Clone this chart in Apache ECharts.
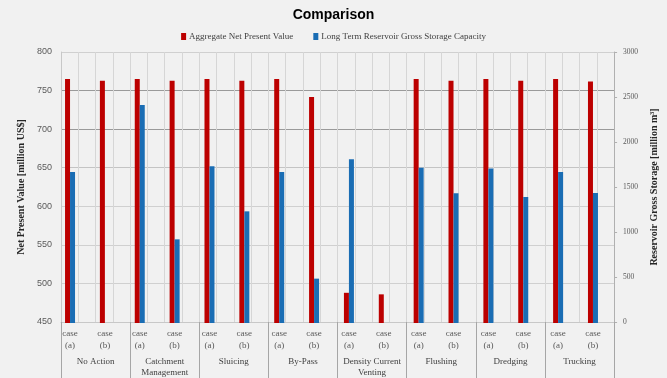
<!DOCTYPE html>
<html>
<head>
<meta charset="utf-8">
<script src="https://cdn.jsdelivr.net/npm/echarts@6/dist/echarts.min.js"></script>
<style>
html,body{margin:0;padding:0;background:#f1f1f1;}
#chart{width:667px;height:378px;}
</style>
</head>
<body>
<div id="chart"></div>
<script>
// ---- data ----
const caseLabels = ['case\n(a)','case\n(b)','case\n(a)','case\n(b)','case\n(a)','case\n(b)','case\n(a)','case\n(b)',
                    'case\n(a)','case\n(b)','case\n(a)','case\n(b)','case\n(a)','case\n(b)','case\n(a)','case\n(b)'];
const groupLabels = ['No Action','Catchment\nManagement','Sluicing','By-Pass','Density Current\nVenting','Flushing','Dredging','Trucking'];
const npvValues = [765,763,765,763,765,763,765,742,489,487,765,763,765,763,765,762];
const storageValues = [1672,0,2413,926,1735,1236,1672,491,1812,0,1720,1435,1709,1395,1672,1439];
const seriesNames = ['Aggregate Net Present Value','Long Term Reservoir Gross Storage Capacity'];
const halfSlots = Array.from({length: caseLabels.length * 2}, () => '');

const SERIF = 'Liberation Serif';
const SANS = 'Liberation Sans';

const chart = echarts.init(document.getElementById('chart'), null, {renderer:'canvas'});
chart.setOption({
  backgroundColor: '#f1f1f1',
  animation: false,
  title: {
    text: 'Comparison', left: 'center', top: 3,
    textStyle: {fontFamily: SANS, fontWeight: 'bold', fontSize: 14, color: '#000'}
  },
  legend: {
    data: seriesNames, top: 27, left: 'center',
    icon: 'rect', itemWidth: 5, itemHeight: 7, itemGap: 20,
    textStyle: {fontFamily: SERIF, fontSize: 9, color: '#404040', padding: [0,0,0,-2]}
  },
  grid: [
    {left: 52.6, width: 557.8, top: 52, height: 271},
    {left: 61, width: 557.6, top: 52, height: 271}
  ],
  xAxis: [
    { // bars + case labels
      type: 'category', gridIndex: 0, data: caseLabels,
      axisLine: {show: false}, axisTick: {show: false}, splitLine: {show: false},
      axisLabel: {interval: 0, margin: 5, fontFamily: SERIF, fontSize: 9, lineHeight: 12, color: '#595959'}
    },
    { // group labels
      type: 'category', gridIndex: 1, data: groupLabels, position: 'bottom',
      axisLine: {show: true, lineStyle: {color: '#c8c8c8', width: 1}},
      axisTick: {show: true, interval: 0, length: 56, lineStyle: {color: '#a6a6a6'}},
      splitLine: {show: true, interval: 0, lineStyle: {color: '#b4b4b4'}},
      axisLabel: {interval: 0, margin: 34, fontFamily: SERIF, fontSize: 9, lineHeight: 11, color: '#404040'}
    },
    { // light vertical lines every half case
      type: 'category', gridIndex: 1, data: halfSlots,
      axisLine: {show: false}, axisTick: {show: false}, axisLabel: {show: false},
      splitLine: {show: true, interval: 0, lineStyle: {color: '#d6d6d6'}}
    }
  ],
  yAxis: [
    {type: 'value', gridIndex: 0, min: 450, max: 800, interval: 50, show: false, splitLine: {show: false}},
    {type: 'value', gridIndex: 0, min: 0, max: 3000, interval: 500, show: false, splitLine: {show: false}},
    {
      type: 'value', gridIndex: 1, position: 'left', min: 450, max: 800, interval: 50,
      name: 'Net Present Value [million US$]', nameLocation: 'middle', nameGap: 27, nameRotate: 90,
      nameTextStyle: {fontFamily: SERIF, fontWeight: 'bold', fontSize: 10, color: '#262626'},
      axisLine: {show: true, lineStyle: {color: '#c8c8c8'}},
      axisTick: {show: false},
      axisLabel: {fontFamily: SANS, fontSize: 9, color: '#595959', margin: 9, formatter: v => String(v)},
      splitLine: {show: true, lineStyle: {color: ['#d0d0d0','#d0d0d0','#d0d0d0','#d0d0d0','#c4c4c4','#9a9a9a','#9a9a9a','#d0d0d0']}}
    },
    {
      type: 'value', gridIndex: 1, position: 'right', min: 0, max: 3000, interval: 500,
      name: 'Reservoir Gross Storage [million m³]', nameLocation: 'middle', nameGap: 31, nameRotate: 90,
      nameTextStyle: {fontFamily: SERIF, fontWeight: 'bold', fontSize: 10, color: '#262626'},
      axisLine: {show: true, lineStyle: {color: '#b0b0b0'}},
      axisTick: {show: true, inside: false, length: 3, lineStyle: {color: '#b0b0b0'}},
      axisLabel: {fontFamily: SERIF, fontSize: 7.5, color: '#595959', margin: 9, formatter: v => String(v)},
      splitLine: {show: false}
    }
  ],
  series: [
    {
      name: seriesNames[0], type: 'bar', xAxisIndex: 0, yAxisIndex: 0,
      data: npvValues, barWidth: 5, barGap: '0%',
      itemStyle: {color: '#bc0000'}
    },
    {
      name: seriesNames[1], type: 'bar', xAxisIndex: 0, yAxisIndex: 1,
      data: storageValues, barWidth: 5, barGap: '0%',
      itemStyle: {color: '#1a6db4'}
    }
  ]
});
</script>
</body>
</html>
